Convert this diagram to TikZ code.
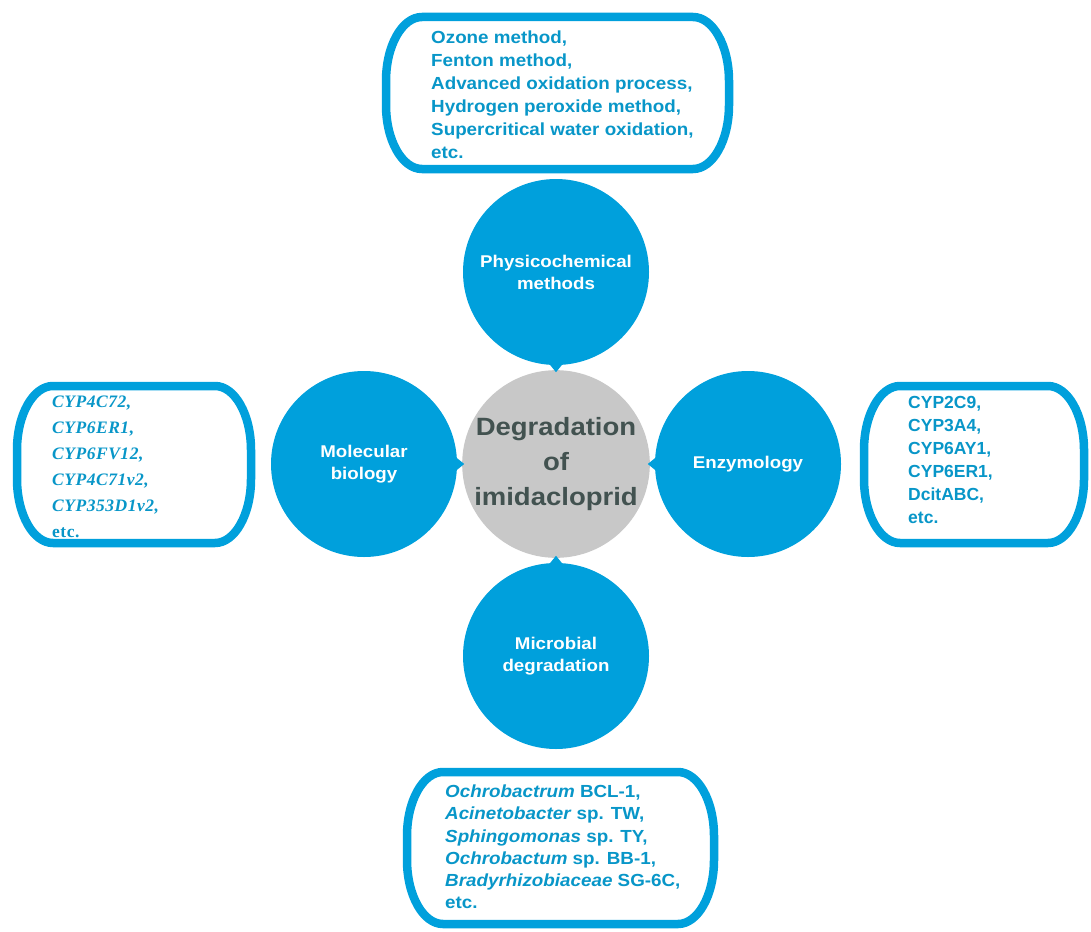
\documentclass[tikz,border=0pt]{standalone}
\usepackage{fontspec}
\setmainfont{Liberation Sans}
\newfontfamily\labelfont[FakeStretch=1.1]{Liberation Sans}
\newfontfamily\widelistfont[FakeStretch=1.075]{Liberation Sans}
\newfontfamily\genefont[LetterSpace=3]{Liberation Serif}
\usetikzlibrary{calc}

\definecolor{hubblue}{RGB}{0,160,220}
\definecolor{listblue}{RGB}{8,150,200}
\definecolor{hubgray}{RGB}{200,200,200}
\definecolor{hubtext}{RGB}{66,82,80}

% corner radii of the list frames
\def\crx{36}
\def\cry{64}

% frame with elliptical corners: x1 y1 x2 y2 (y grows downwards)
\newcommand\drawcapsule[5]{%
  \pgfmathsetmacro\cxa{#1+\crx}%
  \pgfmathsetmacro\cxb{#3-\crx}%
  \pgfmathsetmacro\cya{#2+\cry}%
  \pgfmathsetmacro\cyb{#4-\cry}%
  \pgfmathsetmacro\kxa{#1+(1-0.5523)*\crx}%
  \pgfmathsetmacro\kxb{#3-(1-0.5523)*\crx}%
  \pgfmathsetmacro\kya{#2+(1-0.5523)*\cry}%
  \pgfmathsetmacro\kyb{#4-(1-0.5523)*\cry}%
  \draw[listframe] (\cxa,#2) -- (\cxb,#2)
    .. controls (\kxb,#2) and (#3,\kya) .. (#3,\cya) -- (#3,\cyb)
    .. controls (#3,\kyb) and (\kxb,#4) .. (\cxb,#4) -- (\cxa,#4)
    .. controls (\kxa,#4) and (#1,\kyb) .. (#1,\cyb) -- (#1,\cya)
    .. controls (#1,\kya) and (\kxa,#2) .. (\cxa,#2) -- cycle;
  \coordinate (#5) at ({(#1+#3)/2},{(#2+#4)/2});%
}

\tikzset{
  branch/.style={circle, fill=hubblue, minimum size=186pt, inner sep=0pt,
    text=white, align=center,
    font=\labelfont\bfseries\fontsize{17}{22}\selectfont},
  hub/.style={circle, fill=hubgray, minimum size=186pt, inner sep=0pt,
    text=hubtext, align=center,
    font=\labelfont\bfseries\fontsize{25}{35}\selectfont},
  listframe/.style={draw=hubblue, line width=8.5pt, line join=round},
  listtext/.style={anchor=west, inner sep=0pt, align=left, text=listblue,
    font=\bfseries\fontsize{17.5}{23}\selectfont},
  pointer/.style={fill=hubblue},
}

\begin{document}
\begin{tikzpicture}[x=1pt,y=-1pt]
\useasboundingbox (0,0) rectangle (1091,931);

% central topic and the four branches
\node[hub] (hub) at (556,464) {Degradation\\of\\imidacloprid};
\node[branch] (phys)  at (556,272) {Physicochemical\\methods};
\node[branch] (mol)   at (364,464) {Molecular\\biology};
\node[branch] (enz)   at (748,464) {Enzymology};
\node[branch] (micro) at (556,656) {Microbial\\degradation};

% small pointers from each branch towards the centre
\fill[pointer] ([xshift=-9pt,yshift=4pt]phys.south) -- ([yshift=-7pt]phys.south)
  -- ([xshift=9pt,yshift=4pt]phys.south) -- cycle;
\fill[pointer] ([xshift=-4pt,yshift=9pt]mol.east) -- ([xshift=7pt]mol.east)
  -- ([xshift=-4pt,yshift=-9pt]mol.east) -- cycle;
\fill[pointer] ([xshift=4pt,yshift=9pt]enz.west) -- ([xshift=-7pt]enz.west)
  -- ([xshift=4pt,yshift=-9pt]enz.west) -- cycle;
\fill[pointer] ([xshift=-9pt,yshift=-4pt]micro.north) -- ([yshift=7pt]micro.north)
  -- ([xshift=9pt,yshift=-4pt]micro.north) -- cycle;

% list frames
\drawcapsule{386}{17}{729}{169}{physframe}
\drawcapsule{17}{386}{251}{543}{molframe}
\drawcapsule{864}{386}{1084}{543}{enzframe}
\drawcapsule{407}{772}{714}{924}{microframe}

% list contents
\node[listtext, font=\widelistfont\bfseries\fontsize{17.5}{23}\selectfont] (physlist) at (431,95)
  {Ozone method,\\Fenton method,\\Advanced oxidation process,\\Hydrogen peroxide method,\\Supercritical water oxidation,\\etc.};
\node[listtext, font=\genefont\bfseries\fontsize{17.5}{26}\selectfont] (mollist) at (52,467)
  {\textit{CYP4C72,}\\\textit{CYP6ER1,}\\\textit{CYP6FV12,}\\\textit{CYP4C71v2,}\\\textit{CYP353D1v2,}\\etc.};
\node[listtext] (enzlist) at (908,460) {CYP2C9,\\CYP3A4,\\CYP6AY1,\\CYP6ER1,\\DcitABC,\\etc.};
\node[listtext, font=\widelistfont\bfseries\fontsize{17.5}{22.2}\selectfont] (microlist) at (445,847)
  {\textit{Ochrobactrum} BCL-1,\\\textit{Acinetobacter} sp. TW,\\\textit{Sphingomonas} sp. TY,\\\textit{Ochrobactum} sp. BB-1,\\\textit{Bradyrhizobiaceae} SG-6C,\\etc.};
\end{tikzpicture}
\end{document}
